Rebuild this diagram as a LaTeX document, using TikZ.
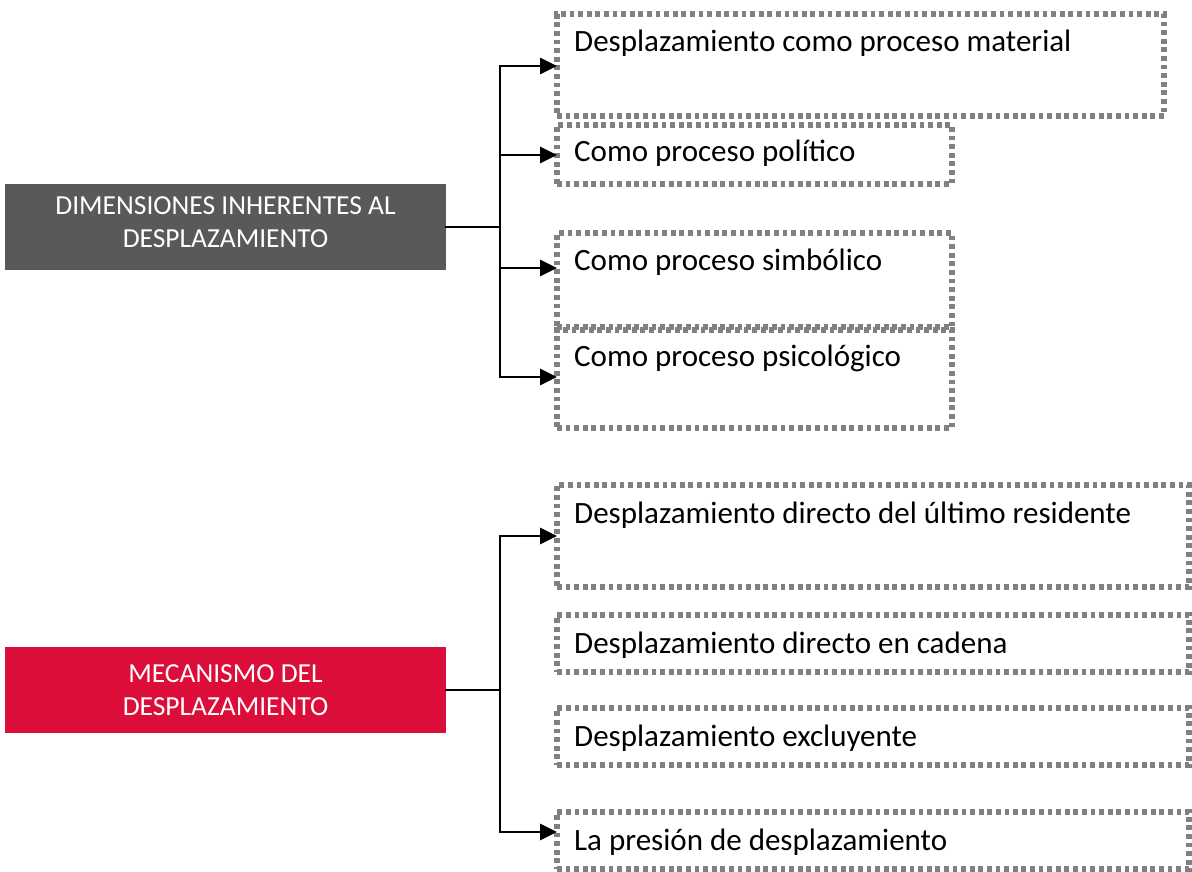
\documentclass[tikz,border=0pt]{standalone}
\usepackage{fontspec}
\setmainfont{Carlito}
\usetikzlibrary{arrows.meta}
\definecolor{darkbox}{RGB}{89,89,89}
\definecolor{redbox}{RGB}{220,13,56}
\definecolor{dotgray}{RGB}{128,128,128}
\begin{document}
\begin{tikzpicture}[x=1pt,y=-1pt,
  headbox/.style={anchor=north west, minimum width=441pt, minimum height=86pt, inner sep=0pt, outer sep=0pt,
    text=white, align=center, font=\fontsize{27.5}{33}\selectfont},
  dbox/.style={anchor=north west, draw=dotgray, line width=5.5pt, dash pattern=on 4.8pt off 3.8pt,
    inner sep=0pt, outer sep=0pt},
  lbl/.style={anchor=base west, inner sep=0pt, font=\fontsize{31}{37}\selectfont},
  conn/.style={line width=2.8pt, line cap=rect},
  arr/.style={line width=2.8pt, -{Triangle[length=17pt,width=16pt]}}]
\useasboundingbox (0,0) rectangle (1192,872);

% left header boxes
\node[headbox, fill=darkbox, text depth=10pt] (dim) at (5,184) {DIMENSIONES INHERENTES AL\\DESPLAZAMIENTO};
\node[headbox, fill=redbox] (mec) at (5,647) {MECANISMO DEL\\DESPLAZAMIENTO};

% dotted boxes, top group
\node[dbox, minimum width=607pt, minimum height=102pt] (b1) at (557,14) {};
\node[dbox, minimum width=395pt, minimum height=59pt] (b2) at (557,125) {};
\node[dbox, minimum width=395pt, minimum height=94pt] (b3) at (557,233) {};
\node[dbox, minimum width=395pt, minimum height=98pt] (b4) at (557,330) {};
% dotted boxes, bottom group
\node[dbox, minimum width=632pt, minimum height=102pt] (b5) at (557,485) {};
\node[dbox, minimum width=632pt, minimum height=57pt] (b6) at (557,615) {};
\node[dbox, minimum width=632pt, minimum height=57pt] (b7) at (557,708) {};
\node[dbox, minimum width=632pt, minimum height=57pt] (b8) at (557,812) {};

% labels
\node[lbl] (l1) at ([shift={(17,38)}]b1.north west) {Desplazamiento como proceso material};
\node[lbl] (l2) at ([shift={(17,37)}]b2.north west) {Como proceso político};
\node[lbl] (l3) at ([shift={(17,37)}]b3.north west) {Como proceso simbólico};
\node[lbl] (l4) at ([shift={(17,36)}]b4.north west) {Como proceso psicológico};
\node[lbl] (l5) at ([shift={(17,38)}]b5.north west) {Desplazamiento directo del último residente};
\node[lbl] (l6) at ([shift={(17,38)}]b6.north west) {Desplazamiento directo en cadena};
\node[lbl] (l7) at ([shift={(17,38)}]b7.north west) {Desplazamiento excluyente};
\node[lbl] (l8) at ([shift={(17,38)}]b8.north west) {La presión de desplazamiento};

% trunk coordinates
\coordinate (a1) at (500,66);
\coordinate (a2) at (500,155);
\coordinate (a3) at (500,268);
\coordinate (a4) at (500,377);
\coordinate (c1) at (500,536);
\coordinate (c2) at (500,832);

% top group connectors
\draw[conn] (dim.east) -- (dim.east -| a1);
\draw[conn] (a1) -- (a4);
\draw[arr] (a1) -- (a1 -| b1.west);
\draw[arr] (a2) -- (a2 -| b2.west);
\draw[arr] (a3) -- (a3 -| b3.west);
\draw[arr] (a4) -- (a4 -| b4.west);

% bottom group connectors
\draw[conn] (mec.east) -- (mec.east -| c1);
\draw[conn] (c1) -- (c2);
\draw[arr] (c1) -- (c1 -| b5.west);
\draw[arr] (c2) -- (c2 -| b8.west);
\end{tikzpicture}
\end{document}
